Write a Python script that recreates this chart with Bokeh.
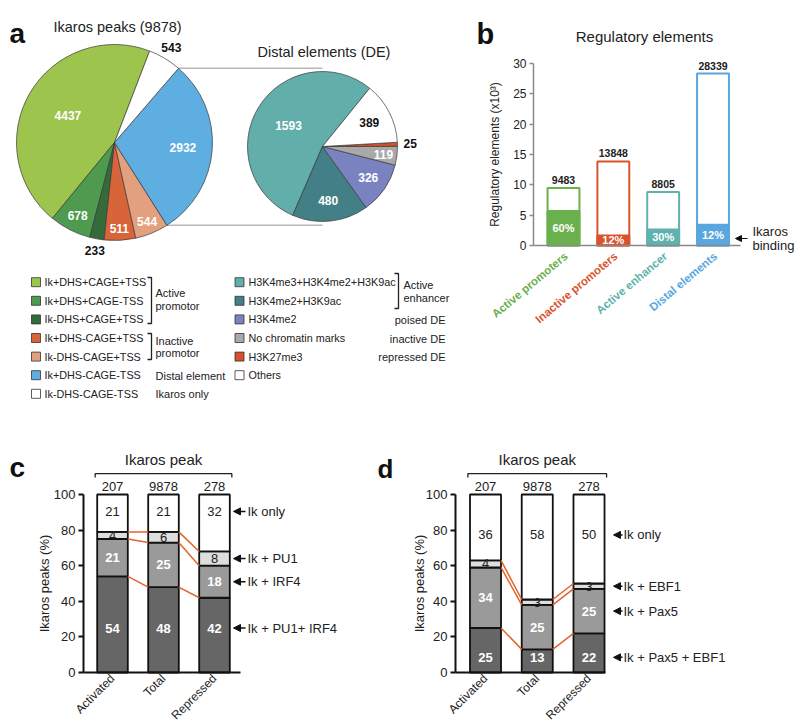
import math
from bokeh.plotting import figure
from bokeh.models import Range1d, LinearAxis, FixedTicker, Arrow, NormalHead
from bokeh.core.properties import value
from bokeh.embed import file_html
from bokeh.resources import INLINE

FONT = "Liberation Sans"

# ---------------- data ----------------
# Panel a: Ikaros peaks (9878)
main_labels = ["Ik+DHS+CAGE+TSS", "Ik+DHS+CAGE-TSS", "Ik-DHS+CAGE+TSS",
               "Ik+DHS-CAGE+TSS", "Ik-DHS-CAGE+TSS", "Ik+DHS-CAGE-TSS", "Ik-DHS-CAGE-TSS"]
main_values = [4437, 678, 233, 511, 544, 2932, 543]
main_colors = ["#9dc44d", "#4e9a4e", "#336b3b", "#d8643a", "#e3a07f", "#5eaee2", "#ffffff"]
# Distal elements (DE)
de_labels = ["H3K4me3+H3K4me2+H3K9ac", "H3K4me2+H3K9ac", "H3K4me2",
             "No chromatin marks", "H3K27me3", "Others"]
de_values = [1593, 480, 326, 119, 25, 389]
de_colors = ["#62aeab", "#437f86", "#7a83c0", "#a9a9a9", "#d6502a", "#ffffff"]

# Panel b: regulatory elements
reg_categories = ["Active promoters", "Inactive promoters", "Active enhancer", "Distal elements"]
reg_totals = [9483, 13848, 8805, 28339]
reg_ikaros_pct = [60, 12, 30, 12]
reg_colors = ["#6ab04c", "#d9532c", "#5fb2ad", "#5aa6de"]
reg_yticks = [0, 5, 10, 15, 20, 25, 30]

# Panels c, d: Ikaros peaks (%)
peak_groups = ["Activated", "Total", "Repressed"]
peak_counts = [207, 9878, 278]
pct_ticks = [0, 20, 40, 60, 80, 100]

c_names = ["Ik + PU1+ IRF4", "Ik + IRF4", "Ik + PU1", "Ik only"]
c_pu1_irf4 = [54, 48, 42]
c_irf4 = [21, 25, 18]
c_pu1 = [4, 6, 8]
c_ik_only = [21, 21, 32]

d_names = ["Ik + Pax5 + EBF1", "Ik + Pax5", "Ik + EBF1", "Ik only"]
d_pax5_ebf1 = [25, 13, 22]
d_pax5 = [34, 25, 25]
d_ebf1 = [4, 3, 3]
d_ik_only = [36, 58, 50]


# ---------------- helpers ----------------
W, H = 800, 728


def lin_range(v0, p0, v1, p1, pa, pb):
    k = (v1 - v0) / (p1 - p0)
    return Range1d(start=v0 + (pa - p0) * k, end=v0 + (pb - p0) * k)


p = figure(width=W, height=H, x_range=Range1d(0, W), y_range=Range1d(-H, 0),
           output_backend="svg", toolbar_location=None, x_axis_type=None, y_axis_type=None,
           min_border=0, title=None)
p.outline_line_color = None
p.background_fill_color = "white"
p.border_fill_color = "white"

p.extra_x_ranges = {
    "bx": lin_range(0, 563, 3, 712.5, 0, W),
    "cx": lin_range(0, 112, 2, 214, 0, W),
    "dx": lin_range(0, 485, 2, 588.5, 0, W),
}
p.extra_y_ranges = {
    "by": lin_range(0, 245, 30, 63, H, 0),
    "py": lin_range(0, 672, 100, 494, H, 0),
}


def T(x, y, s, size=12, color="#222222", align="left", baseline="middle", bold=False,
      angle=0.0, xr=None, yr=None, x_offset=0, y_offset=0):
    kw = {}
    if xr:
        kw["x_range_name"] = xr
    if yr:
        kw["y_range_name"] = yr
    xs = x if isinstance(x, list) else [x]
    ys = y if isinstance(y, list) else [y]
    ss = s if isinstance(s, list) else [s]
    if yr is None:
        ys = [-v for v in ys]
    p.text(x=xs, y=ys, text=ss, text_font=value(FONT), text_font_size=f"{size}px",
           text_color=color, text_align=align, text_baseline=baseline,
           text_font_style="bold" if bold else "normal", angle=angle,
           x_offset=x_offset, y_offset=y_offset, **kw)


def pie(cx, cy, r, vals, colors, start_deg, label_frac, label_colors):
    total = sum(vals)
    a = math.radians(start_deg)
    starts, ends = [], []
    for v in vals:
        starts.append(a)
        a += 2 * math.pi * v / total
        ends.append(a)
    n = len(vals)
    p.wedge(x=[cx] * n, y=[-cy] * n, radius=r, start_angle=starts, end_angle=ends,
            fill_color=colors, line_color="#3a3a3a", line_width=0.7)
    for v, s, e, f, c in zip(vals, starts, ends, label_frac, label_colors):
        m = (s + e) / 2
        T(cx + f * r * math.cos(m), cy - f * r * math.sin(m), str(v), size=12,
          color=c, align="center", bold=True)
    return starts, ends


def style_axis(ax, color, width, label_size):
    ax.axis_line_color = color
    ax.axis_line_width = width
    ax.major_tick_line_color = color
    ax.major_tick_line_width = width
    ax.minor_tick_line_color = None
    ax.major_label_text_font = FONT
    ax.major_label_text_font_size = f"{label_size}px"
    ax.major_label_text_color = "#222222"


# ---------------- panel a ----------------
T(9, 33, "a", size=28, bold=True, baseline="alphabetic", color="#111111")
T(53, 26, "Ikaros peaks (9878)", size=14.5)
T(257, 51, "Distal elements (DE)", size=14.5)

MCX, MCY, MR = 114, 142, 98
DCX, DCY, DR = 322, 146, 75

# connector lines from the Distal element slice to the DE pie
blue_i = 5
tot = sum(main_values)
s_blue = math.radians(69) + 2 * math.pi * sum(main_values[:blue_i]) / tot
e_blue = s_blue + 2 * math.pi * main_values[blue_i] / tot
yt = MCY - MR * math.sin(e_blue)
yb_ = MCY - MR * math.sin(s_blue)
p.segment(x0=[MCX + MR * math.cos(e_blue), MCX + MR * math.cos(s_blue)], y0=[-yt, -yb_],
          x1=[DCX, DCX], y1=[-yt, -yb_], line_color="#b8b8b8", line_width=1.5)

pie(MCX, MCY, MR, main_values, main_colors, 69,
    [0.55, 0.83, 1.12, 0.88, 0.87, 0.7, 1.13],
    ["white", "white", "#111111", "white", "white", "white", "#111111"])
pie(DCX, DCY, DR, de_values, de_colors, 51,
    [0.53, 0.72, 0.74, 0.82, 1.17, 0.7],
    ["white", "white", "white", "white", "#111111", "#111111"])

# legend
rows = [281.7 + 18.6 * k for k in range(7)]
p.rect(x=[35.5] * 7, y=[-v for v in rows], width=9, height=9,
       fill_color=main_colors, line_color="#333333", line_width=0.8)
T([44] * 7, rows, main_labels, size=10.8)
p.rect(x=[239] * 6, y=[-v for v in rows[:6]], width=9, height=9,
       fill_color=de_colors, line_color="#333333", line_width=0.8)
T([248] * 6, rows[:6], de_labels, size=10.8)

p.multi_line(xs=[[147, 151, 151, 147], [147, 151, 151, 147], [394, 398, 398, 394]],
             ys=[[-277, -277, -323, -323], [-333, -333, -359, -359], [-273, -273, -308, -308]],
             line_color="#222222", line_width=1.3)
T([155, 155, 155, 155, 155, 155], [292.7, 305, 340, 352.5, 375, 393.7],
  ["Active", "promotor", "Inactive", "promotor", "Distal element", "Ikaros only"], size=11)
T([403, 403], [284, 297], ["Active", "enhancer"], size=11)
T([445, 445, 445], [319.5, 338, 356.5], ["poised DE", "inactive DE", "repressed DE"],
  size=11, align="right")

# ---------------- panel b ----------------
T(476, 33, "b", size=29, bold=True, baseline="alphabetic", color="#111111")
T(644, 36, "Regulatory elements", size=15, align="center")

bx = list(range(len(reg_categories)))
tot_k = [t / 1000 for t in reg_totals]
bound_k = [t * pc / 100 / 1000 for t, pc in zip(reg_totals, reg_ikaros_pct)]
p.vbar(x=bx, bottom=0, top=tot_k, width=0.64, fill_color="white", line_color=reg_colors,
       line_width=2, x_range_name="bx", y_range_name="by")
p.vbar(x=bx, bottom=0, top=bound_k, width=0.64, fill_color=reg_colors, line_color=reg_colors,
       line_width=2, x_range_name="bx", y_range_name="by")

ayb = LinearAxis(y_range_name="by", fixed_location=533, bounds=(0, 30),
                 ticker=FixedTicker(ticks=reg_yticks))
style_axis(ayb, "#8a8a8a", 1.5, 12)
ayb.major_tick_out = 4
ayb.major_tick_in = 0
ayb.major_label_standoff = 3
p.add_layout(ayb, "left")
axb = LinearAxis(y_range_name="by", fixed_location=0, bounds=(533, 740),
                 ticker=FixedTicker(ticks=[]))
style_axis(axb, "#8a8a8a", 1.5, 12)
p.add_layout(axb, "below")

T(bx, tot_k, [str(t) for t in reg_totals], size=10.5, bold=True, align="center",
  baseline="bottom", xr="bx", yr="by", y_offset=-4)
T(bx, [b / 2 for b in bound_k], [f"{pc}%" for pc in reg_ikaros_pct], size=11, bold=True,
  color="white", align="center", xr="bx", yr="by")
for i, (cat, col) in enumerate(zip(reg_categories, reg_colors)):
    T(i + 0.05, 0, cat, size=11.5, bold=True, color=col, align="right",
      angle=math.radians(40), xr="bx", yr="by", y_offset=9)
T(494, 15, "Regulatory elements (x10\u00b3)", size=12, align="center", angle=math.pi / 2,
  yr="by")
p.add_layout(Arrow(x_start=747, y_start=-238, x_end=735, y_end=-238, line_width=1.2,
                   line_color="#111111",
                   end=NormalHead(size=6, fill_color="#111111", line_color="#111111")))
T([752, 752], [231, 245], ["Ikaros", "binding"], size=13)

# ---------------- panels c, d ----------------
SEG_FILL = ["#666666", "#9a9a9a", "#dedede", "#ffffff"]
SEG_TXT = ["#ffffff", "#ffffff", "#222222", "#222222"]
SEG_BOLD = [True, True, False, False]
BW = 0.6
ORANGE = "#e2642c"


def stacked(xr, series, names, low_label, high_label, x_bounds, y_axis_px,
            arrow_tip, arrow_tail, text_x, ylabel_x):
    n = len(peak_groups)
    xs = list(range(n))
    bottoms = [0.0] * n
    boundaries, labels = [], []
    for k, s in enumerate(series):
        last = k == len(series) - 1
        tops = [100.0] * n if last else [b + v for b, v in zip(bottoms, s)]
        p.vbar(x=xs, bottom=bottoms, top=tops, width=BW, fill_color=SEG_FILL[k],
               line_color="#111111", line_width=1.8, x_range_name=xr, y_range_name="py")
        if k == 0:
            ly = [low_label] * n
        elif last:
            ly = [high_label] * n
        else:
            ly = [(b + t) / 2 for b, t in zip(bottoms, tops)]
        labels.append(ly)
        if not last:
            boundaries.append(tops)
        bottoms = tops
    for tops in boundaries:
        p.segment(x0=[i + BW / 2 for i in range(n - 1)], y0=tops[:-1],
                  x1=[i + 1 - BW / 2 for i in range(n - 1)], y1=tops[1:],
                  line_color=ORANGE, line_width=1.5, x_range_name=xr, y_range_name="py")
    for k, s in enumerate(series):
        T(xs, labels[k], [str(v) for v in s], size=13, color=SEG_TXT[k], align="center",
          bold=SEG_BOLD[k], xr=xr, yr="py")
    T(xs, [100] * n, [str(c) for c in peak_counts], size=13, align="center",
      baseline="bottom", xr=xr, yr="py", y_offset=-4)
    xl, xh = -BW / 2 - 0.04, n - 1 + BW / 2 + 0.04
    p.line(x=[xl, xl, xh, xh], y=[109.5, 111.7, 111.7, 109.5], line_color="#222222",
           line_width=1.3, x_range_name=xr, y_range_name="py")
    T(1, 119.7, "Ikaros peak", size=15, align="center", xr=xr, yr="py")
    for k, name in enumerate(names):
        yv = labels[k][-1]
        p.add_layout(Arrow(x_start=arrow_tail, y_start=yv, x_end=arrow_tip, y_end=yv,
                           y_range_name="py", line_width=1.5, line_color="#111111",
                           end=NormalHead(size=7, fill_color="#111111",
                                          line_color="#111111")))
        T(text_x, yv, name, size=13, yr="py")

    ay = LinearAxis(y_range_name="py", fixed_location=y_axis_px, bounds=(0, 100),
                    ticker=FixedTicker(ticks=pct_ticks))
    style_axis(ay, "#111111", 2, 13)
    ay.major_tick_out = 5
    ay.major_tick_in = 0
    ay.major_label_standoff = 3
    p.add_layout(ay, "left")
    ax = LinearAxis(x_range_name=xr, y_range_name="py", fixed_location=0, bounds=x_bounds,
                    ticker=FixedTicker(ticks=[0, 1, 2]),
                    major_label_overrides={i: g for i, g in enumerate(peak_groups)},
                    major_label_orientation=math.pi / 4)
    style_axis(ax, "#111111", 2, 12)
    ax.major_tick_out = 0
    ax.major_tick_in = 0
    ax.major_label_standoff = 4
    p.add_layout(ax, "below")
    T(ylabel_x, 50, "Ikaros peaks (%)", size=13, align="center", angle=math.pi / 2, yr="py")


T(9, 467, "c", size=28, bold=True, baseline="alphabetic", color="#111111")
stacked("cx", [c_pu1_irf4, c_irf4, c_pu1, c_ik_only], c_names, 25, 90.5,
        (-0.57, 2.51), 83, 233, 245, 247, 44)

T(377, 468, "d", size=26, bold=True, baseline="alphabetic", color="#111111")
stacked("dx", [d_pax5_ebf1, d_pax5, d_ebf1, d_ik_only], d_names, 8.5, 77.3,
        (-0.58, 2.32), 455, 613, 622, 623, 419)

open("out.html", "w").write(file_html(p, INLINE))
